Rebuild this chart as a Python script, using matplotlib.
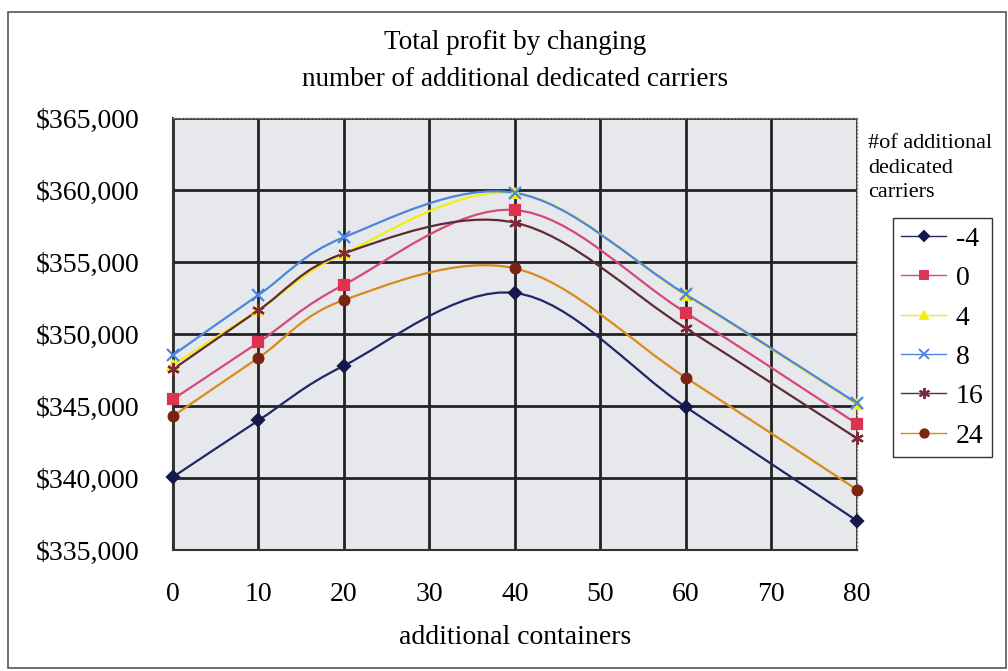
import matplotlib.pyplot as plt
from matplotlib.path import Path
from matplotlib.patches import PathPatch
from matplotlib.lines import Line2D
from matplotlib.ticker import FuncFormatter

plt.rcParams['font.family'] = ['Liberation Serif', 'DejaVu Serif']

# additional containers on the x axis
containers = [0, 10, 20, 40, 60, 80]

# total profit per number of additional dedicated carriers
carriers = ['-4', '0', '4', '8', '16', '24']
profit_m4 = [340070, 344000, 347800, 352850, 344930, 337040]
profit_0 = [345470, 349420, 353420, 358610, 351480, 343770]
profit_4 = [347850, 351670, 355600, 359770, 352700, 345140]
profit_8 = [348540, 352710, 356720, 359810, 352750, 345200]
profit_16 = [347550, 351650, 355600, 357730, 350400, 342760]
profit_24 = [344300, 348350, 352360, 354560, 346970, 339200]

series = [profit_m4, profit_0, profit_4, profit_8, profit_16, profit_24]
line_colors = ['#1f2766', '#d4487a', '#f2ee10', '#4a86e0', '#5e2a36', '#d88a1c']
marker_colors = ['#14184a', '#dc3450', '#f2ee10', '#4a86e0', '#7a2a3a', '#7a2412']
markers = ['D', 's', '^', 'x', (6, 2, 0), 'o']
marker_sizes = [6, 7, 7, 8, 9, 7]


def smooth_path(xs, ys):
    # Catmull-Rom style bezier segments through the points
    n = len(xs)
    verts = [(xs[0], ys[0])]
    codes = [Path.MOVETO]
    for i in range(n - 1):
        x0, y0 = (xs[i - 1], ys[i - 1]) if i > 0 else (xs[i], ys[i])
        x1, y1 = xs[i], ys[i]
        x2, y2 = xs[i + 1], ys[i + 1]
        x3, y3 = (xs[i + 2], ys[i + 2]) if i + 2 < n else (x2, y2)
        c1 = (x1 + (x2 - x0) / 6, y1 + (y2 - y0) / 6)
        c2 = (x2 - (x3 - x1) / 6, y2 - (y3 - y1) / 6)
        verts += [c1, c2, (x2, y2)]
        codes += [Path.CURVE4] * 3
    return Path(verts, codes)


fig = plt.figure(figsize=(10.08, 6.71), dpi=100)
ax = fig.add_axes([0.1716, 0.1803, 0.6784, 0.6438])
ax.set_facecolor('#e7e8ec')

for vals, lc, mc, mk, ms in zip(series, line_colors, marker_colors, markers, marker_sizes):
    ax.add_patch(PathPatch(smooth_path(containers, vals), fill=False,
                           edgecolor=lc, lw=1.6, zorder=3))
    ax.plot(containers, vals, linestyle='none', marker=mk, markersize=ms,
            color=mc, markeredgecolor=mc, markeredgewidth=1.6, zorder=4,
            clip_on=False)

ax.set_xlim(0, 80)
ax.set_ylim(335000, 365000)
ax.set_xticks(range(0, 81, 10))
ax.set_yticks(range(335000, 365001, 5000))
ax.yaxis.set_major_formatter(FuncFormatter(lambda v, p: f'${v:,.0f}'))
ax.tick_params(length=0, labelsize=20)
ax.tick_params(axis='y', pad=24)
ax.tick_params(axis='x', pad=23)
ax.grid(True, color='#222222', lw=2)
ax.set_axisbelow(True)
for s in ['top', 'right']:
    ax.spines[s].set_color('#888888')
    ax.spines[s].set_linestyle(':')
    ax.spines[s].set_linewidth(1)
for s in ['left', 'bottom']:
    ax.spines[s].set_color('#333333')
    ax.spines[s].set_linewidth(1.5)

ax.set_xlabel('additional containers', fontsize=20, labelpad=13)
fig.text(0.511, 0.937, 'Total profit by changing', ha='center', va='center', fontsize=19.5)
fig.text(0.511, 0.882, 'number of additional dedicated carriers', ha='center', va='center', fontsize=19.5)

# legend title and legend box on the right
fig.text(0.861, 0.7496, '#of additional\ndedicated\ncarriers', ha='left', va='center',
         fontsize=16, linespacing=1.4)
handles = [Line2D([0], [0], color=lc, lw=1, marker=mk, markersize=ms - 1,
                  markerfacecolor=mc, markeredgecolor=mc, markeredgewidth=1.4)
           for lc, mc, mk, ms in zip(line_colors, marker_colors, markers, marker_sizes)]
fig.legend(handles, carriers, loc='upper left', bbox_to_anchor=(0.886, 0.675),
           fontsize=20, frameon=True, fancybox=False, edgecolor='black',
           handlelength=1.6, handletextpad=0.35, labelspacing=0.5,
           borderpad=0.3, borderaxespad=0)

# outer chart border
fig.add_artist(plt.Rectangle((0.008, 0.004), 0.99, 0.978, transform=fig.transFigure,
                             fill=False, edgecolor='#555555', lw=1.2))

fig.savefig('out.png', dpi=100)
